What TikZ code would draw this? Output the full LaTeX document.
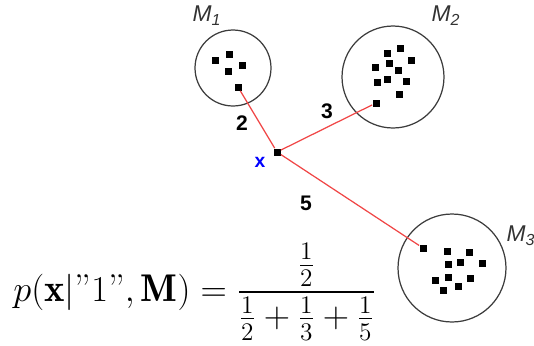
\documentclass[tikz,border=0pt]{standalone}
\usepackage{fontspec}
\usepackage{amsmath}
\newfontfamily\labelfont{Liberation Sans}
\definecolor{linkRed}{RGB}{240,70,70}
\definecolor{clusterGray}{RGB}{60,60,60}
\usetikzlibrary{positioning}

\begin{document}
\begin{tikzpicture}[x=0.02cm, y=-0.02cm,
  cluster/.style={draw=clusterGray, line width=0.7pt, circle, inner sep=0pt},
  dot/.style={fill=black, minimum size=0.14cm, inner sep=0pt},
  dist/.style={font=\labelfont\bfseries\fontsize{12}{14}\selectfont},
  mlabel/.style={font=\labelfont\itshape\fontsize{13}{15}\selectfont, text=black!80}
]
  \useasboundingbox (0,0) rectangle (534,345);

  % clusters
  \node[cluster, minimum size=1.52cm] (c1) at (233,68)  {};
  \node[cluster, minimum size=2.04cm] (c2) at (393,77)  {};
  \node[cluster, minimum size=2.16cm] (c3) at (452,268) {};
  \node[mlabel] (m1) at (207,16)  {M\textsubscript{1}};
  \node[mlabel] (m2) at (446,16)  {M\textsubscript{2}};
  \node[mlabel] (m3) at (521,236) {M\textsubscript{3}};

  % points in each cluster
  \foreach \p in {(215,60),(229,54),(228,71),(242,65)}
    \node[dot] at \p {};
  \foreach \p in {(400,48),(387,53),(411,60),(389,63),(375,67),(398,70),
                  (387,79),(377,82),(406,81),(399,94)}
    \node[dot] at \p {};
  \foreach \p in {(447,251),(469,252),(460,262),(448,264),(482,263),
                  (448,277),(435,280),(470,278),(458,286),(443,290)}
    \node[dot] at \p {};

  % nearest points and the query
  \node[dot] (n1) at (238,87)  {};
  \node[dot] (n2) at (376,103) {};
  \node[dot] (n3) at (423,248) {};
  \node[dot] (q)  at (277,152) {};
  \node[font=\labelfont\bfseries\fontsize{11}{13}\selectfont, text=blue] (qx) at (260,162) {x};

  \draw[linkRed, line width=0.7pt] (q) -- (n1);
  \draw[linkRed, line width=0.7pt] (q) -- (n2);
  \draw[linkRed, line width=0.7pt] (q) -- (n3);
  \node[dist] (d1) at (242,123) {2};
  \node[dist] (d2) at (327,111) {3};
  \node[dist] (d3) at (306,203) {5};

  \node[anchor=west, inner sep=0pt, font=\fontsize{22}{26}\selectfont] (eq) at (13,292)
    {$\displaystyle p(\mathbf{x}|"1", \mathbf{M}) = \frac{\frac{1}{2}}{\frac{1}{2}+\frac{1}{3}+\frac{1}{5}}$};
\end{tikzpicture}
\end{document}
